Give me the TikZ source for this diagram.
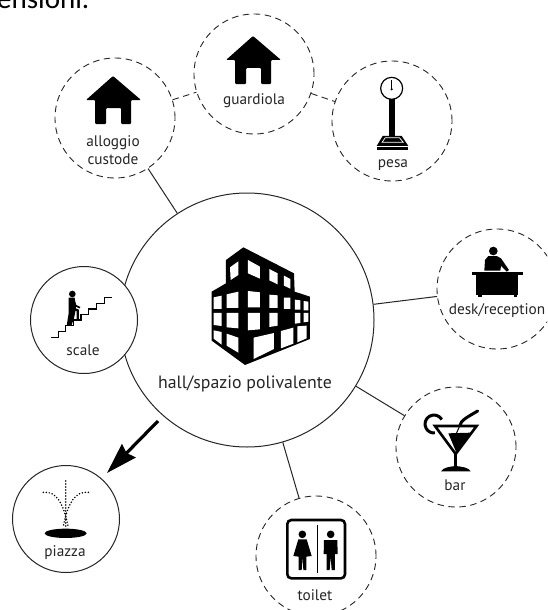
\documentclass[tikz,border=0pt]{standalone}
\usepackage{fontspec}
\setmainfont{PT Sans}
\newfontfamily\topfont{Carlito}
\usetikzlibrary{arrows.meta}
\tikzset{
  hub/.style={circle,draw=black!85,line width=1pt,inner sep=0pt,minimum size=#1,fill=white},
  dashring/.style={circle,draw=black!85,line width=0.9pt,dash pattern=on 6.5pt off 4.5pt,inner sep=0pt,minimum size=120pt},
  solidring/.style={circle,draw=black!85,line width=1pt,inner sep=0pt,minimum size=107pt,fill=white},
  link/.style={line width=1pt,draw=black!85},
  dashlink/.style={line width=0.9pt,draw=black!85,dash pattern=on 6.5pt off 4.5pt},
  lab/.style={anchor=base,inner sep=0pt,font=\fontsize{15.3}{17}\selectfont,text=black!85},
  icon/.style={x=0.3333pt,y=-0.3333pt},
}
\newcommand{\housepic}{%
  \fill[black,rounded corners=1pt] (86,100) -- (113,76) -- (141,100) -- (131,100) -- (131,124) -- (121,124) -- (121,108) -- (106,108) -- (106,124) -- (95,124) -- (95,100) -- cycle;}
\begin{document}
\begin{tikzpicture}[x=1pt,y=-1pt]
\clip (0,0) rectangle (547,610);
\fill[white] (0,0) rectangle (547,610);
\node[anchor=base west,inner sep=0pt,font=\topfont\fontsize{29}{31}\selectfont] (toptext) at (-3,8.5) {ensioni.};

% main nodes
\node[hub=254pt] (hall) at (247,320) {};
\node[solidring] (scale) at (84,320) {};
\node[solidring] (piazza) at (66,519) {};
\node[dashring] (alloggio) at (115,118) {};
\node[dashring] (guardiola) at (254,74) {};
\node[dashring] (pesa) at (392,121) {};
\node[dashring] (desk) at (497,289) {};
\node[dashring] (bar) at (456,447) {};
\node[dashring] (toilet) at (316,556) {};

% connectors
\draw[link] (hall) -- (alloggio);
\draw[link] (hall) -- (desk);
\draw[link] (hall) -- (bar);
\draw[link] (hall) -- (toilet);
\draw[dashlink] (alloggio) -- (guardiola);
\draw[dashlink] (guardiola) -- (pesa);
\coordinate (arrowfrom) at (158,421);
\coordinate (arrowto) at (107,473);
\draw[line width=3.2pt,-{Stealth[length=31pt,width=19pt,inset=3pt]}] (arrowfrom) -- (arrowto);

% labels
\node[lab] (lalloggio) at (113,146) {alloggio};
\node[lab] (lcustode) at (113,164) {custode};
\node[lab] (lguardiola) at (254,104) {guardiola};
\node[lab] (lpesa) at (393,167) {pesa};
\node[lab] (ldesk) at (497,314) {desk/reception};
\node[lab] (lbar) at (455,490) {bar};
\node[lab] (ltoilet) at (315,600) {toilet};
\node[lab] (lscale) at (83,355) {scale};
\node[lab] (lpiazza) at (65,556) {piazza};
\node[lab,font=\fontsize{17.8}{20}\selectfont] (lhall) at (245,388) {hall/spazio polivalente};

% houses
\housepic
\begin{scope}[shift={(140,-40)}]\housepic\end{scope}

% building
\begin{scope}[shift={(190,240)},icon]
\fill[black] (108,60)--(160,22)--(312,100)--(314,155)--(360,170)--(360,297)--(165,375)--(65,302)--(65,155)--(108,130)--cycle;
\fill[white] (120,82)--(145,64)--(145,105)--(122,120)--cycle
 (174,60)--(210,80)--(210,116)--(174,100)--cycle
 (238,87)--(263,100)--(263,133)--(238,121)--cycle
 (282,107)--(301,117)--(301,146)--(282,137)--cycle
 (71,172)--(95,167)--(95,207)--(71,207)--cycle
 (110,163)--(145,155)--(145,204)--(110,204)--cycle
 (174,153)--(210,157)--(210,202)--(174,202)--cycle
 (238,164)--(263,166)--(263,204)--(238,204)--cycle
 (282,173)--(301,173)--(301,207)--(282,207)--cycle
 (315,179)--(331,181)--(331,209)--(315,209)--cycle
 (341,183)--(355,185)--(355,211)--(341,211)--cycle
 (71,219)--(95,219)--(95,258)--(71,255)--cycle
 (110,219)--(145,219)--(145,265)--(110,262)--cycle
 (174,219)--(210,219)--(210,268)--(174,271)--cycle
 (238,219)--(263,219)--(263,257)--(238,261)--cycle
 (315,219)--(331,219)--(331,249)--(315,251)--cycle
 (341,219)--(355,219)--(355,245)--(341,247)--cycle
 (71,271)--(95,276)--(95,314)--(71,296)--cycle
 (110,281)--(145,293)--(145,338)--(110,317)--cycle
 (191,293)--(252,279)--(252,327)--(191,357)--cycle
 (273,273)--(310,263)--(310,311)--(273,325)--cycle
 (322,259)--(350,257)--(350,295)--(322,307)--cycle;
\end{scope}

% scale icon
\begin{scope}[shift={(45,285)},icon]
\draw[line width=1.3pt] (18,157)--(40,157)--(40,140)--(62,140)--(62,122)--(85,122)--(85,105)--(108,105)--(108,88)--(130,88)--(130,72)--(155,72)--(155,55)--(178,55)--(178,38)--(202,38);
\fill[black] (82,27) circle[radius=10];
\fill[black] (71,38)--(89,38)--(93,70)--(87,100)--(79,122)--(65,122)--(71,85)--cycle;
\draw[line width=1.7pt] (86,45)--(92,62)--(105,68);
\draw[line width=2.2pt] (88,72)--(98,76)--(98,102);
\end{scope}

% piazza icon
\begin{scope}[shift={(35,475)},icon]
\fill[black] (92,175) ellipse[x radius=63,y radius=14];
\begin{scope}[line width=1.7pt,dash pattern=on 0pt off 3pt,line cap=round]
\draw (92,18)--(92,160);
\draw (25,52) .. controls (62,48) and (85,80) .. (100,158);
\draw (160,52) .. controls (122,48) and (99,80) .. (84,158);
\end{scope}
\end{scope}

% desk icon
\begin{scope}[shift={(465,240)},icon]
\fill[black] (85,33) circle[radius=13];
\fill[black] (58,92)--(60,60)--(70,48)--(95,48)--(108,55)--(132,90)--(125,95)--(108,78)--(106,92)--cycle;
\fill[black] (20,97) rectangle (173,106);
\fill[black] (33,106) rectangle (160,165);
\fill[black] (40,165) rectangle (50,172);
\fill[black] (147,165) rectangle (157,172);
\end{scope}

% bar icon
\begin{scope}[shift={(415,400)},icon]
\fill[black] (100,100)--(168,98)--(123,155)--cycle;
\draw[line width=2.6pt,line join=miter] (60,78)--(185,78)--(122,162)--cycle;
\draw[line width=3.2pt] (122,160)--(122,202);
\fill[black] (78,214) .. controls (85,202) and (105,200) .. (122,198) .. controls (140,200) and (160,202) .. (167,214) -- cycle;
\draw[line width=3pt] (80.4,58.5) arc[start angle=-30,end angle=-275,radius=27];
\draw[line width=3pt,line cap=round] (135,76) .. controls (138,62) and (150,55) .. (188,33);
\draw[line width=1pt] (135,76)--(122,105);
\end{scope}

% toilet icon
\begin{scope}[shift={(280,510)},icon]
\draw[line width=2.6pt,rounded corners=4pt] (22,30) rectangle (195,205);
\draw[line width=1.5pt] (112,45)--(112,190);
\fill[black] (67,73) circle[radius=11.5];
\fill[black] (55,88)--(80,88)--(95,138)--(79,140)--(79,180)--(70,180)--(68,142)--(65,180)--(56,180)--(56,140)--(40,138)--cycle;
\fill[black] (152,73) circle[radius=11.5];
\fill[black] (132,90)--(172,90)--(173,132)--(165,132)--(165,180)--(155,180)--(152,140)--(149,180)--(140,180)--(140,132)--(131,132)--cycle;
\end{scope}

% pesa icon
\begin{scope}[shift={(320,60)},icon]
\draw[line width=1.2pt] (215,85) circle[radius=33];
\draw[line width=1pt] (215,60)--(215,88);
\fill[black] (215,88) circle[radius=3.5];
\fill[black] (207,118) rectangle (225,228);
\fill[black] (188,228)--(245,228)--(265,258)--(170,258)--cycle;
\draw[white,line width=0.7pt] (186,247)--(196,233)--(238,233)--(250,247)--cycle;
\fill[black] (170,260) rectangle (265,270);
\end{scope}
\end{tikzpicture}
\end{document}
